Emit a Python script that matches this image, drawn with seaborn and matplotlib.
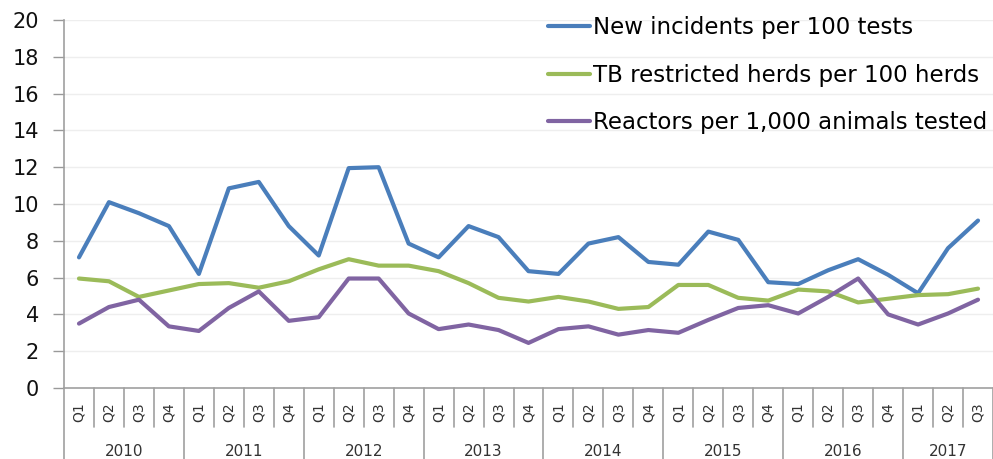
import pandas as pd
import numpy as np
import matplotlib
matplotlib.use('Agg')
import matplotlib.pyplot as plt
import matplotlib.transforms as mtransforms
import seaborn as sns

# quarters 2010 Q1 .. 2017 Q3
years = ['2010', '2011', '2012', '2013', '2014', '2015', '2016', '2017']
quarters_per_year = [4, 4, 4, 4, 4, 4, 4, 3]
quarter_labels = [f'Q{q + 1}' for n in quarters_per_year for q in range(n)]

series_names = ['New incidents per 100 tests',
                'TB restricted herds per 100 herds',
                'Reactors per 1,000 animals tested']

new_incidents = [7.1, 10.1, 9.5, 8.8, 6.2, 10.85, 11.2, 8.8, 7.2, 11.95, 12.0,
                 7.85, 7.1, 8.8, 8.2, 6.35, 6.2, 7.85, 8.2, 6.85, 6.7, 8.5,
                 8.05, 5.75, 5.65, 6.4, 7.0, 6.15, 5.15, 7.6, 9.1]
restricted_herds = [5.95, 5.8, 4.95, 5.3, 5.65, 5.7, 5.45, 5.8, 6.45, 7.0, 6.65,
                    6.65, 6.35, 5.7, 4.9, 4.7, 4.95, 4.7, 4.3, 4.4, 5.6, 5.6,
                    4.9, 4.75, 5.35, 5.25, 4.65, 4.85, 5.05, 5.1, 5.4]
reactors = [3.5, 4.4, 4.8, 3.35, 3.1, 4.35, 5.25, 3.65, 3.85, 5.95, 5.95,
            4.05, 3.2, 3.45, 3.15, 2.45, 3.2, 3.35, 2.9, 3.15, 3.0, 3.7,
            4.35, 4.5, 4.05, 4.95, 5.95, 4.0, 3.45, 4.05, 4.8]

colors = ['#4A7EBB', '#9BBB59', '#8064A2']

n = len(quarter_labels)
df = pd.DataFrame({
    'idx': list(range(n)) * 3,
    'value': new_incidents + restricted_herds + reactors,
    'series': [s for s in series_names for _ in range(n)],
})

sns.set_style('white')
plt.rcParams['font.family'] = ['DejaVu Sans']

fig = plt.figure(figsize=(9.93, 4.59), dpi=100)
ax = fig.add_axes([64 / 993, 1 - 388 / 459, 1 - 64 / 993, (388 - 20) / 459])

sns.lineplot(data=df, x='idx', y='value', hue='series', hue_order=series_names,
             palette=colors, linewidth=3, ax=ax, legend=False)

ax.set_xlim(-0.5, n - 0.5)
ax.set_ylim(0, 20)
ax.set_yticks(range(0, 21, 2))
ax.set_yticklabels([str(v) for v in range(0, 21, 2)], fontsize=15, color='#111111')
ax.yaxis.grid(True, color='#EEEEEE', linewidth=1)
ax.tick_params(axis='y', length=8, width=1, color='#999999', left=True, pad=10)
ax.set_xlabel('')
ax.set_ylabel('')

# quarter labels
ax.set_xticks(range(n))
ax.set_xticklabels(quarter_labels, rotation=90, fontsize=10, color='#333333')
ax.tick_params(axis='x', length=0, pad=10)

for side in ['top', 'right']:
    ax.spines[side].set_visible(False)
for side in ['left', 'bottom']:
    ax.spines[side].set_color('#A0A0A0')
    ax.spines[side].set_linewidth(1.2)

# category separators below the axis
trans = mtransforms.blended_transform_factory(ax.transData, ax.transAxes)
short = -39 / 368
full = -75 / 368
year_starts = np.cumsum([0] + quarters_per_year)
for b in range(n + 1):
    bottom = full if b in year_starts else short
    ax.plot([b - 0.5, b - 0.5], [0, bottom], transform=trans, color='#A0A0A0',
            linewidth=1.2, clip_on=False)

for i, yr in enumerate(years):
    center = (year_starts[i] + year_starts[i + 1] - 1) / 2
    ax.text(center, -63 / 368, yr, transform=trans, ha='center', va='center',
            fontsize=11, color='#333333')

handles = [plt.Line2D([0], [0], color=c, linewidth=3) for c in colors]
leg = ax.legend(handles, series_names, loc='upper right', bbox_to_anchor=(1.016, 1.066),
                frameon=False, fontsize=16.5, handlelength=1.8, handletextpad=0.15,
                labelspacing=1.07)
for t in leg.get_texts():
    t.set_color('#000000')

fig.savefig('out.png', dpi=100)
